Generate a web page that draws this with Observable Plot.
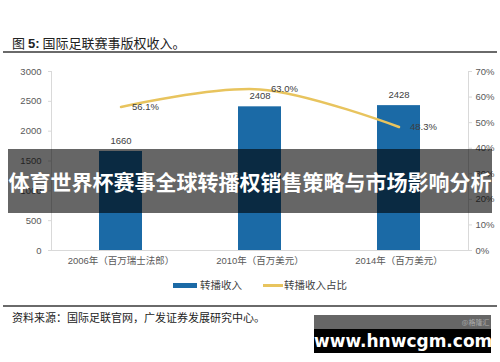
<!DOCTYPE html>
<html>
<head>
<meta charset="utf-8">
<script src="https://cdn.jsdelivr.net/npm/d3@7"></script>
<script src="https://cdn.jsdelivr.net/npm/@observablehq/plot@0.6"></script>
<style>
  html, body { margin: 0; padding: 0; background: #fff; }
  #wrap { position: relative; width: 500px; height: 362px; overflow: hidden; background: #fff;
          font-family: "Liberation Sans", "Noto Sans CJK SC", sans-serif; }
  #title { position: absolute; left: 12px; top: 33px; font-size: 13px; color: #222;
           font-family: "Noto Sans CJK SC", sans-serif; white-space: nowrap; }
  #title b { font-family: "Liberation Sans", sans-serif; }
  .rule { position: absolute; left: 3px; width: 494px; background: #6a6a6a; }
  #chart { position: absolute; left: 0; top: 55px; }
  #legend { position: absolute; top: 277px; left: 0; width: 500px; height: 16px;
            font-family: "Noto Sans CJK SC", sans-serif; font-size: 10.5px; color: #404040; }
  #legend .sw { position: absolute; }
  #legend .lb { position: absolute; top: 0; line-height: 16px; white-space: nowrap; }
  #source { position: absolute; left: 12px; top: 309px; font-size: 11px; color: #222;
            font-family: "Noto Sans CJK SC", sans-serif; white-space: nowrap; line-height: 16px; }
  #banner { position: absolute; left: 8px; top: 149px; width: 484px; height: 64px;
            background: rgba(0,0,0,0.6); color: #fff; font-weight: bold; font-size: 21px;
            font-family: "Noto Sans CJK SC", sans-serif; text-align: center; line-height: 64px;
            white-space: nowrap; letter-spacing: 0px; }
  #wm { position: absolute; left: 314px; top: 315px; width: 177px; height: 38px; }
  #wm .top { position: absolute; left: 0; top: 0; width: 177px; height: 14px; background: #666;
             color: #aaa; font-size: 7px; text-align: right; line-height: 14px;
             font-family: "Noto Sans CJK SC", sans-serif; }
  #wm .bot { position: absolute; left: 0; top: 14px; width: 177px; height: 24px; background: #000;
             color: #fff; font-weight: bold; font-size: 17px; text-align: center; line-height: 24px;
             font-family: "DejaVu Sans", sans-serif; }
</style>
</head>
<body>
<div id="wrap">
  <div id="title">图 <b>5:</b> 国际足联赛事版权收入。</div>
  <div class="rule" style="top:50.5px;height:2px;"></div>
  <div id="chart"></div>
  <div id="legend"></div>
  <div class="rule" style="top:305px;height:1.5px;"></div>
  <div id="source">资料来源：国际足联官网，广发证券发展研究中心。</div>
  <div id="banner">体育世界杯赛事全球转播权销售策略与市场影响分析</div>
  <div id="wm"><div class="top">@格隆汇&nbsp;</div><div class="bot">www.hnwcgm.com</div></div>
</div>
<script>
// ---- data ----
const categories = ["2006年（百万瑞士法郎）", "2010年（百万美元）", "2014年（百万美元）"];
const revenue = [1660, 2408, 2428];
const share = [56.1, 63.0, 48.3];           // percent
const leftTicks = [0, 500, 1000, 1500, 2000, 2500, 3000];
const rightTicks = [0, 10, 20, 30, 40, 50, 60, 70];   // percent
const seriesNames = ["转播收入", "转播收入占比"];

const barColor = "#1b6aa6";
const lineColor = "#e8c45e";
const axisColor = "#d9d9d9";
const textColor = "#595959";

const yMax = 3000, pMax = 70;
const toY = p => p / pMax * yMax;

const rows = categories.map((c, i) => ({cat: c, rev: revenue[i], pct: share[i]}));

const chart = Plot.plot({
  width: 500,
  height: 220,
  marginTop: 16,
  marginBottom: 25,
  marginLeft: 51,
  marginRight: 32,
  style: {fontFamily: "'Liberation Sans', 'Noto Sans CJK SC', sans-serif", fontSize: "9.5px", color: textColor, background: "transparent"},
  x: {domain: categories, paddingInner: 0.69, paddingOuter: 0.345, axis: null},
  y: {domain: [0, yMax], axis: null},
  marks: [
    Plot.frame({anchor: "left", stroke: axisColor}),
    Plot.frame({anchor: "right", stroke: axisColor}),
    Plot.frame({anchor: "bottom", stroke: axisColor}),
    Plot.axisY({anchor: "left", ticks: leftTicks, tickFormat: v => String(v), tickSize: 3, tickPadding: 7, stroke: axisColor, fill: textColor, label: null}),
    Plot.axisY({anchor: "right", ticks: rightTicks.map(toY), tickFormat: v => Math.round(v / yMax * pMax) + "%", tickSize: 3, tickPadding: 4, stroke: axisColor, fill: textColor, label: null}),
    Plot.axisX({anchor: "bottom", tickSize: 0, tickPadding: 7, fill: textColor, label: null, fontFamily: "'Liberation Sans', 'Noto Sans CJK SC', sans-serif", fontSize: 9.5}),
    Plot.barY(rows, {x: "cat", y: "rev", fill: barColor}),
    Plot.text(rows, {x: "cat", y: "rev", text: d => String(d.rev), dy: -11, fill: "#404040"}),
    Plot.line(rows, {x: "cat", y: d => toY(d.pct), stroke: lineColor, strokeWidth: 2.5, curve: "catmull-rom"}),
    Plot.text(rows, {x: "cat", y: d => toY(d.pct), text: d => d.pct.toFixed(1) + "%", textAnchor: "start", dx: 11, fill: "#404040"})
  ]
});
document.getElementById("chart").appendChild(chart);

// legend
const lg = document.getElementById("legend");
lg.innerHTML =
  `<div class="sw" style="left:173px;top:6px;width:24px;height:5px;background:${barColor}"></div>` +
  `<div class="lb" style="left:200px">${seriesNames[0]}</div>` +
  `<div class="sw" style="left:263px;top:7px;width:20px;height:2.5px;background:${lineColor}"></div>` +
  `<div class="lb" style="left:284px">${seriesNames[1]}</div>`;
</script>
</body>
</html>
